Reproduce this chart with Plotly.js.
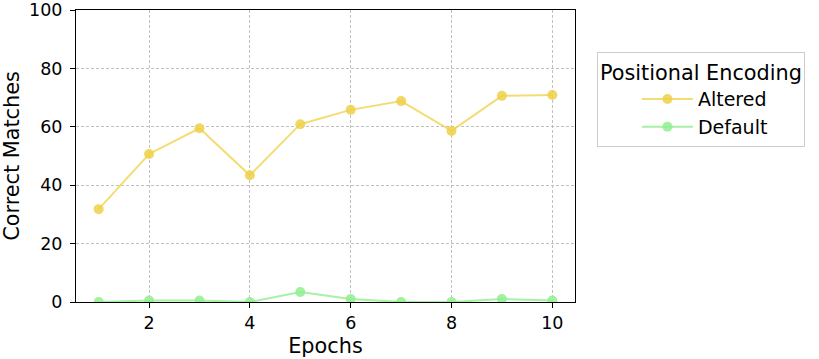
<!DOCTYPE html>
<html>
<head>
<meta charset="utf-8">
<script src="https://cdn.plot.ly/plotly-3.0.1.min.js"></script>
<style>
  html, body { margin: 0; padding: 0; background: #fff; }
  #chart { width: 819px; height: 359px; }
</style>
</head>
<body>
<div id="chart"></div>
<script>
// Data
const epochs = [1, 2, 3, 4, 5, 6, 7, 8, 9, 10];
const altered = [31.8, 50.7, 59.5, 43.4, 60.9, 65.8, 68.8, 58.6, 70.6, 70.9];
const defaultEnc = [0, 0.5, 0.5, 0, 3.4, 1.0, 0, 0, 1.0, 0.5];
const seriesNames = ['Altered', 'Default'];

const font = 'DejaVu Sans, sans-serif';

function makeTrace(y, name, lineColor, markerColor) {
    return {
        x: epochs,
        y: y,
        name: name,
        type: 'scatter',
        mode: 'lines+markers',
        line: { color: lineColor, width: 2 },
        marker: { color: markerColor, size: 10 }
    };
}

const traces = [
    makeTrace(altered, seriesNames[0], 'rgba(240,212,80,0.8)', 'rgba(238,208,72,0.85)'),
    makeTrace(defaultEnc, seriesNames[1], 'rgba(144,238,144,0.8)', 'rgba(144,238,144,0.85)')
];

const axisCommon = {
    showline: true,
    linecolor: '#000',
    linewidth: 1,
    mirror: true,
    ticks: 'outside',
    ticklen: 5,
    tickcolor: '#000',
    showgrid: true,
    gridcolor: '#b0b0b0',
    griddash: '3px,2px',
    gridwidth: 0.8,
    zeroline: false,
    tickfont: { family: font, size: 17.5, color: '#000' }
};

const layout = {
    width: 819,
    height: 359,
    margin: { l: 76, r: 244, t: 10, b: 57 },
    paper_bgcolor: '#fff',
    plot_bgcolor: '#fff',
    font: { family: font, color: '#000' },
    showlegend: true,
    xaxis: Object.assign({}, axisCommon, {
        range: [0.55, 10.45],
        tickvals: [2, 4, 6, 8, 10],
        title: { text: 'Epochs', font: { family: font, size: 20.8 }, standoff: 6 }
    }),
    yaxis: Object.assign({}, axisCommon, {
        range: [0, 100],
        tickvals: [0, 20, 40, 60, 80, 100],
        ticklabelstandoff: 4,
        title: { text: 'Correct Matches', font: { family: font, size: 20.8 }, standoff: 8 }
    }),
    legend: {
        x: 1.044,
        y: 0.856,
        xanchor: 'left',
        yanchor: 'top',
        bordercolor: '#cccccc',
        borderwidth: 1,
        bgcolor: '#fff',
        font: { family: font, size: 19 },
        title: { text: 'Positional Encoding', side: 'top center', font: { family: font, size: 20.8 } },
        indentation: 39,
        itemwidth: 51,
        tracegroupgap: 0
    }
};

Plotly.newPlot('chart', traces, layout, { displayModeBar: false, staticPlot: true });
</script>
</body>
</html>
